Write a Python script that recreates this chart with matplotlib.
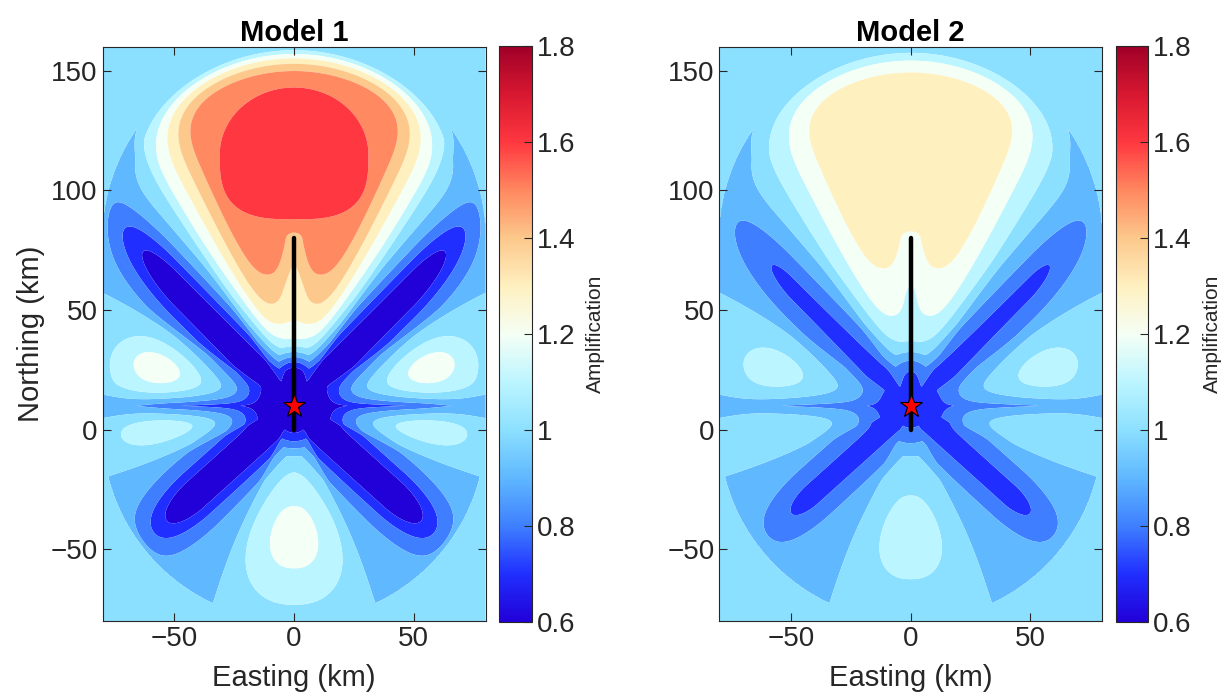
import numpy as np
import matplotlib
matplotlib.use("Agg")
import matplotlib.pyplot as plt
from matplotlib.colors import LinearSegmentedColormap, Normalize
from matplotlib.cm import ScalarMappable

plt.rcParams['font.family'] = ['Liberation Sans', 'DejaVu Sans']

# ---------------- scenario ----------------
titles = ["Model 1", "Model 2"]
model_gain = [1.0, 0.58]          # scaling of the amplification anomaly per model
fault_east = [0.0, 0.0]           # km
fault_north = [0.0, 80.0]         # km
hypo_east, hypo_north = 0.0, 10.0
cutoff_km = 80.0                  # distance from the fault beyond which no anomaly

east_lim = (-80, 80)
north_lim = (-80, 160)
east_ticks = [-50, 0, 50]
north_ticks = [-50, 0, 50, 100, 150]

amp_levels = [0.6, 0.7, 0.8, 0.9, 1.0, 1.1, 1.2, 1.3, 1.4, 1.5, 1.6, 1.7, 1.8]
amp_colors = ["#2200d8", "#2030ff", "#3f80ff", "#5fb8ff", "#8ce0ff", "#bcf5ff",
              "#f5fff5", "#fff0c0", "#fcc88c", "#ff8860", "#ff3840", "#d81830",
              "#a00028"]
cbar_ticks = [0.6, 0.8, 1.0, 1.2, 1.4, 1.6, 1.8]

# directivity pattern parameters (Model 1)
north_lobe = dict(amp=0.68, width=26.0, power=6.0, r0=15.0, scale=31.0, k=1.08,
                  d0=45.0, q=4.0, ceiling=0.595)
north_core = dict(peak=0.655, drop=0.055, north=115.0, half_width=31.0,
                  half_up=28.0, half_down=27.0)
south_lobe = dict(amp=0.24, width=20.0, r_peak=55.0, r_width=30.0)
side_lobes = [  # amp, azimuth, az width, radius, radial width
    (0.12, 88.0, 16.0, 55.0, 28.0),
    (0.20, 73.0, 10.0, 60.0, 19.0),
    (0.11, 101.0, 6.0, 57.0, 20.0),
]
node_azimuths = [45.0, 132.0]
node_depth, node_width = 0.33, 10.5
wedge_depth = 0.07
wedge_sectors = [(31.0, 58.0), (112.0, 157.0)]
core_depth = 0.40
band_broad, band_spike = 0.105, 0.215
notch_depth = 0.12
anomaly_range = (-0.385, 0.69)


def smoothstep(a, b, t):
    u = np.clip((t - a) / (b - a), 0.0, 1.0)
    return u * u * (3 - 2 * u)


def taper(d, d0, q):
    return 1.0 - np.clip((d - d0) / (cutoff_km - d0), 0.0, 1.0) ** q


# ---------------- grid ----------------
x = np.linspace(east_lim[0], east_lim[1], 641)
y = np.linspace(north_lim[0], north_lim[1], 961)
X, Y = np.meshgrid(x, y)
ax_ = np.abs(X - hypo_east)
dy = Y - hypo_north
r = np.hypot(ax_, dy)
phi = np.degrees(np.arctan2(ax_, dy))         # 0 = north, 180 = south
psi = 180.0 - phi
d = np.hypot(X - fault_east[0], Y - np.clip(Y, fault_north[0], fault_north[1]))

# wedges of slight de-amplification between the lobes
B = np.zeros_like(X)
for lo, hi in wedge_sectors:
    B -= wedge_depth * smoothstep(lo - 2, lo + 2, phi) * (1 - smoothstep(hi - 2, hi + 2, phi))

# forward-directivity lobe north of the fault
nl = north_lobe
outer = nl["amp"] / (1 + (phi / nl["width"]) ** nl["power"]) \
    * (1 - np.exp(-(np.maximum(r - nl["r0"], 0) / nl["scale"]) ** nl["k"])) \
    * taper(d, nl["d0"], nl["q"])
outer = np.minimum(outer, nl["ceiling"])
nc = north_core
u = ax_ / nc["half_width"]
above = Y >= nc["north"]
v = np.abs(Y - nc["north"]) / np.where(above, nc["half_up"], nc["half_down"])
n = np.where(above, 2.0, 3.0)
rho = (u ** n + v ** n) ** (1.0 / n)
core = nc["peak"] - nc["drop"] * rho ** 8
P = np.maximum(outer, core)

sl = south_lobe
P += sl["amp"] * np.exp(-(psi / sl["width"]) ** 2.5) \
    * np.exp(-((r - sl["r_peak"]) / sl["r_width"]) ** 2)
for a, az, aw, rp, rw in side_lobes:
    P += a * np.exp(-((phi - az) / aw) ** 2) * np.exp(-((r - rp) / rw) ** 2)

# nodal arms and hypocentral low
M = core_depth * np.exp(-((Y - 12.0) / 20.0) ** 4) * np.exp(-(X / 10.0) ** 2)
T_node = taper(d, 50.0, 1.8)
for az in node_azimuths:
    t = np.radians(az)
    s = ax_ * np.sin(t) + dy * np.cos(t)
    perp = np.abs(-ax_ * np.cos(t) + dy * np.sin(t))
    perp = np.where(s < 0, r, perp)
    M = np.maximum(M, node_depth * np.exp(-(perp / node_width) ** 2) * T_node)

# narrow east-west low through the hypocentre
spike_amp = band_spike * (0.8 + 0.2 * smoothstep(10, 45, ax_)) \
    * np.exp(-(np.maximum(ax_ - 48.0, 0) / 22.0) ** 2)
H = band_broad * np.exp(-(np.abs(dy) / 6.0) ** 2.5) + spike_amp * np.exp(-np.abs(dy) / 2.5)

# reduction right along the fault trace near its northern tip
N = notch_depth * np.exp(-(X / 5.0) ** 2) * smoothstep(40, 60, Y) * \
    np.where(Y > fault_north[1], np.exp(-((Y - fault_north[1]) / 4.0) ** 2), 1.0)

anomaly = np.clip(B + P - M - H - N, *anomaly_range)
anomaly = np.where(d <= cutoff_km, anomaly, 0.0)

# ---------------- colours ----------------
cmap = LinearSegmentedColormap.from_list(
    "amp", list(zip(np.linspace(0, 1, len(amp_colors)), amp_colors)))
norm = Normalize(amp_levels[0], amp_levels[-1])
fill_colors = [cmap(norm(v)) for v in amp_levels[:-1]]

ink = "#262626"
fig = plt.figure(figsize=(12.22, 6.94), dpi=100)
axes_left = [0.084, 0.5886]
cbar_left = [0.4086, 0.9133]

for i, title in enumerate(titles):
    ax = fig.add_axes([axes_left[i], 0.1052, 0.3133, 0.8271])
    Z = 1.001 + model_gain[i] * anomaly
    ax.contourf(X, Y, Z, levels=amp_levels, colors=fill_colors, antialiased=True)
    ax.plot(fault_east, fault_north, color="black", lw=3.2, solid_capstyle="round", zorder=3)
    ax.plot([hypo_east], [hypo_north], marker="*", ms=17, mfc="red", mec="black",
            mew=0.8, zorder=4)
    ax.set_xlim(*east_lim)
    ax.set_ylim(*north_lim)
    ax.set_xticks(east_ticks)
    ax.set_yticks(north_ticks)
    ax.tick_params(direction="in", top=True, right=True, labelsize=20,
                   colors=ink, length=6, width=0.8)
    for sp in ax.spines.values():
        sp.set_color(ink)
        sp.set_linewidth(0.8)
    ax.set_title(title, fontsize=21, fontweight="bold", pad=4)
    ax.set_xlabel("Easting (km)", fontsize=21, color=ink, labelpad=9)
    if i == 0:
        ax.set_ylabel("Northing (km)", fontsize=21, color=ink, labelpad=4)

    cax = fig.add_axes([cbar_left[i], 0.1037, 0.0265, 0.830])
    cb = fig.colorbar(ScalarMappable(norm=norm, cmap=cmap), cax=cax, ticks=cbar_ticks)
    cb.ax.set_yticklabels(["%g" % t for t in cbar_ticks])
    cb.ax.tick_params(direction="in", labelsize=20, colors=ink, length=6, width=0.8)
    cb.outline.set_edgecolor(ink)
    cb.outline.set_linewidth(0.8)
    cb.set_label("Amplification", fontsize=15, color=ink, labelpad=8)

fig.savefig("out.png", dpi=100)
